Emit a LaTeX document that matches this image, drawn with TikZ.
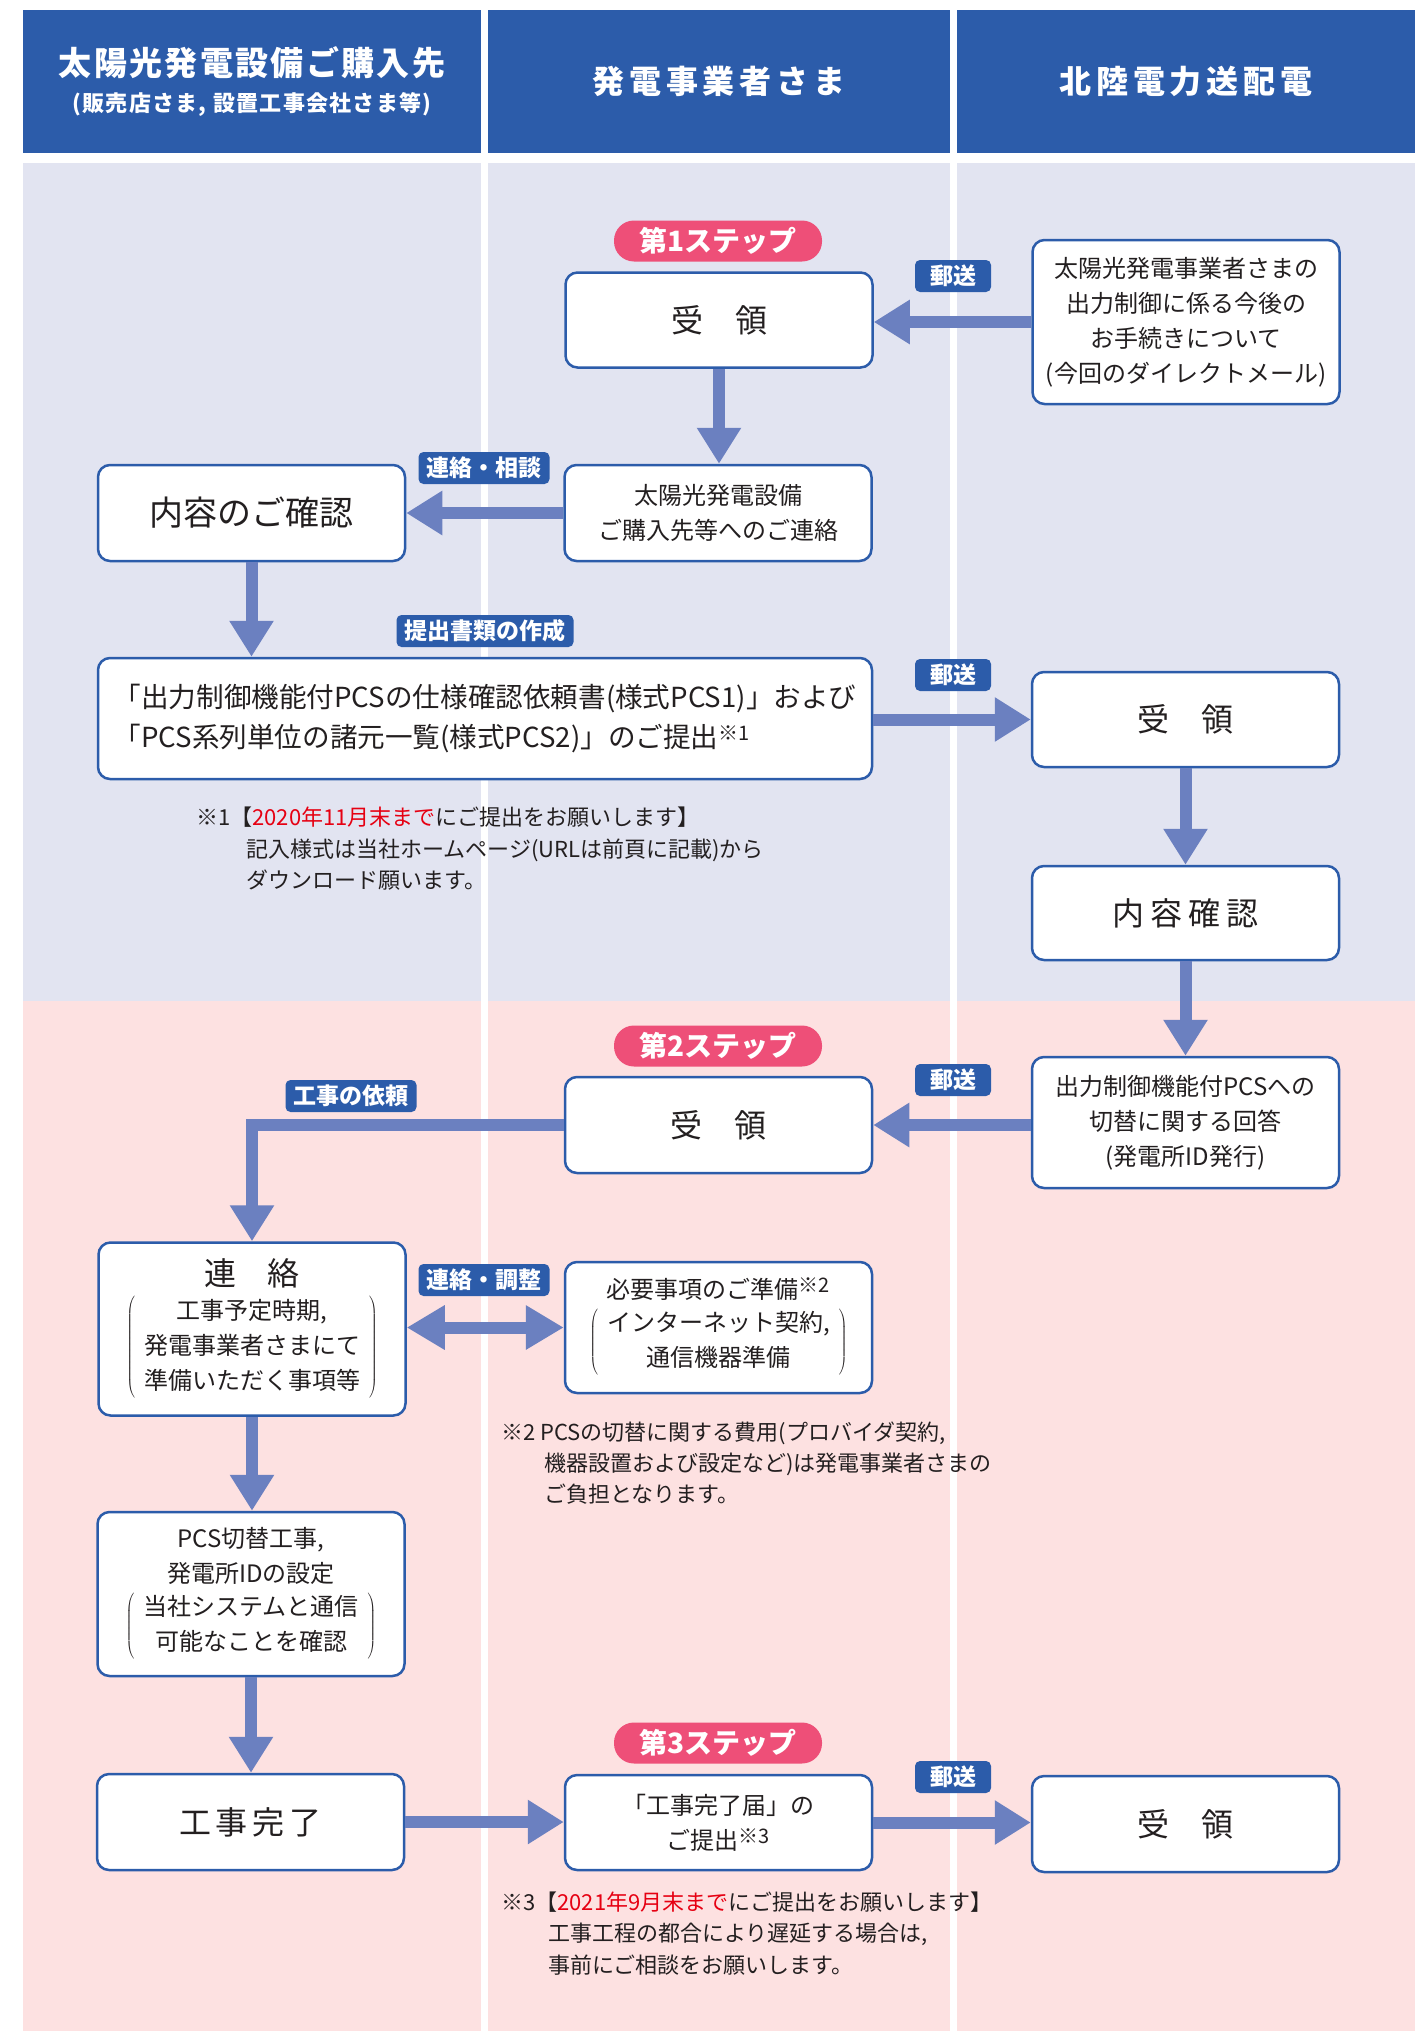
\documentclass[tikz,border=0pt]{standalone}
\usepackage{fontspec}
\newfontfamily\jpfont{Noto Sans CJK JP}
\usetikzlibrary{arrows.meta}
\definecolor{laneblue}{RGB}{44,92,170}
\definecolor{planbg}{RGB}{226,228,241}
\definecolor{workbg}{RGB}{253,225,225}
\definecolor{flowblue}{RGB}{107,128,192}
\definecolor{steppink}{RGB}{238,79,120}
\definecolor{duered}{RGB}{230,0,18}
\definecolor{inktext}{RGB}{35,31,32}
\newcommand{\bigjp}{\fontsize{32}{36}\selectfont}
\newcommand{\refmark}[1]{\raisebox{0.25em}{\fontsize{20}{20}\selectfont #1}}
\newcommand{\inparen}[1]{$\left(\renewcommand{\arraystretch}{1.0}%
  \begin{tabular}{@{\hspace{9pt}}c@{\hspace{9pt}}}#1\end{tabular}\right)$}
\tikzset{
  flowbox/.style={draw=laneblue, line width=2.5pt, fill=white, rounded corners=12pt,
    minimum width=307pt, minimum height=95pt, inner sep=0pt, align=center,
    text=inktext, font=\jpfont\fontsize{24}{35}\selectfont},
  tagbox/.style={fill=laneblue, rounded corners=5pt, text=white, inner xsep=8pt,
    inner ysep=0pt, minimum height=32pt, font=\jpfont\bfseries\fontsize{23}{23}\selectfont},
  steppill/.style={fill=steppink, rounded corners=20pt, minimum width=208pt,
    minimum height=41pt, inner sep=0pt, text=white, font=\jpfont\bfseries\fontsize{28}{28}\selectfont},
  lanehead/.style={fill=laneblue, minimum height=143pt, inner sep=0pt, align=center,
    text=white, font=\jpfont\bfseries},
  flow/.style={draw=flowblue, line width=12pt, -{Triangle[width=42pt,length=36pt]}},
  flowboth/.style={draw=flowblue, line width=12pt,
    {Triangle[width=42pt,length=38pt]}-{Triangle[width=42pt,length=38pt]}},
  noteline/.style={anchor=base west, inner sep=0pt, text=inktext,
    font=\jpfont\fontsize{22}{22}\selectfont}
}

\begin{document}
\begin{tikzpicture}[x=1pt, y=-1pt]
  \useasboundingbox (0,0) rectangle (1424,2031);
  \fill[white] (0,0) rectangle (1424,2031);

  % lanes
  \fill[planbg] (23,163) rectangle (481,1001);
  \fill[planbg] (488,163) rectangle (950,1001);
  \fill[planbg] (957,163) rectangle (1415,1001);
  \fill[workbg] (23,1001) rectangle (481,2031);
  \fill[workbg] (488,1001) rectangle (950,2031);
  \fill[workbg] (957,1001) rectangle (1415,2031);

  % headers
  \node[lanehead, minimum width=458pt] (headSeller) at (252,81.5)
    {{\fontsize{33}{40}\selectfont\addfontfeature{LetterSpace=7}太陽光発電設備ご購入先}\\[12pt]
     {\fontsize{22}{26}\selectfont\addfontfeature{LetterSpace=6}(販売店さま, 設置工事会社さま等)}};
  \node[lanehead, minimum width=462pt] (headOwner) at (719,81.5)
    {\fontsize{32}{36}\selectfont\addfontfeature{LetterSpace=15}発電事業者さま};
  \node[lanehead, minimum width=458pt] (headGrid) at (1186,81.5)
    {\fontsize{32}{36}\selectfont\addfontfeature{LetterSpace=15}北陸電力送配電};

  % step 1
  \node[steppill] (step1) at (718,241) {第1ステップ};
  \node[flowbox] (recvMail) at (719,320) {\bigjp 受\hspace{1em}領};
  \node[flowbox, minimum height=164pt] (dmLetter) at (1186,322)
    {太陽光発電事業者さまの\\出力制御に係る今後の\\お手続きについて\\(今回のダイレクトメール)};
  \node[flowbox, minimum height=96pt] (askSeller) at (718,513)
    {太陽光発電設備\\ご購入先等へのご連絡};
  \node[flowbox, minimum height=96pt] (checkSeller) at (251.5,513)
    {\fontsize{34}{36}\selectfont 内容のご確認};
  \node[flowbox, minimum width=774pt, minimum height=121pt, align=left,
    font=\jpfont\fontsize{27.6}{40}\selectfont] (submitDocs) at (485,718.5)
    {「出力制御機能付PCSの仕様確認依頼書(様式PCS1)」および\\
     「PCS系列単位の諸元一覧(様式PCS2)」のご提出\refmark{※1}};
  \node[flowbox] (recvForms) at (1185.5,719.5) {\bigjp 受\hspace{1em}領};
  \node[flowbox, minimum height=94pt] (checkForms) at (1185.5,913)
    {\bigjp 内\hspace{6pt}容\hspace{6pt}確\hspace{6pt}認};

  % step 2
  \node[steppill] (step2) at (718,1046) {第2ステップ};
  \node[flowbox, minimum height=131pt] (reply) at (1185.5,1122.5)
    {出力制御機能付PCSへの\\切替に関する回答\\(発電所ID発行)};
  \node[flowbox, minimum height=96pt] (recvReply) at (718.5,1125) {\bigjp 受\hspace{1em}領};
  \node[flowbox, minimum height=173pt] (contactSeller) at (252,1329)
    {{\bigjp 連\hspace{1em}絡}\\[6pt]
     \inparen{工事予定時期,\\発電事業者さまにて\\準備いただく事項等}};
  \node[flowbox, minimum height=131pt] (prepItems) at (718.5,1327.5)
    {必要事項のご準備\refmark{※2}\\[5pt]
     \inparen{インターネット契約,\\通信機器準備}};
  \node[flowbox, minimum height=164pt] (pcsWork) at (251,1594)
    {PCS切替工事,\\発電所IDの設定\\[5pt]
     \inparen{当社システムと通信\\可能なことを確認}};
  \node[flowbox, minimum height=96pt] (workDone) at (250.5,1822)
    {\bigjp 工\hspace{5pt}事\hspace{5pt}完\hspace{5pt}了};

  % step 3
  \node[steppill] (step3) at (718,1743) {第3ステップ};
  \node[flowbox] (doneReport) at (718.5,1822.5) {「工事完了届」の\\ご提出\refmark{※3}};
  \node[flowbox, minimum height=96pt] (recvReport) at (1185.5,1824) {\bigjp 受\hspace{1em}領};

  % connectors
  \draw[flow] (dmLetter.west) -- (dmLetter.west -| recvMail.east);
  \draw[flow] (recvMail.south) -- (recvMail.south |- askSeller.north);
  \draw[flow] (askSeller.west) -- (checkSeller.east);
  \draw[flow] (checkSeller.south) -- (checkSeller.south |- submitDocs.north);
  \draw[flow] (submitDocs.east |- recvForms.west) -- (recvForms.west);
  \draw[flow] (recvForms.south) -- (checkForms.north);
  \draw[flow] (checkForms.south) -- (checkForms.south |- reply.north);
  \draw[flow] (reply.west |- recvReply.east) -- (recvReply.east);
  \draw[flow] (recvReply.west) -| (contactSeller.north);
  \draw[flowboth] (contactSeller.east |- prepItems.west) -- (prepItems.west);
  \draw[flow] (contactSeller.south) -- (contactSeller.south |- pcsWork.north);
  \draw[flow] (pcsWork.south) -- (pcsWork.south |- workDone.north);
  \draw[flow] (workDone.east) -- (workDone.east -| doneReport.west);
  \draw[flow] (doneReport.east) -- (doneReport.east -| recvReport.west);

  % tags
  \node[tagbox, minimum width=76pt] (post1) at (953,276) {郵送};
  \node[tagbox] (talkTag) at (484,468) {連絡・相談};
  \node[tagbox] (docTag) at (485,631) {提出書類の作成};
  \node[tagbox, minimum width=76pt] (post2) at (953,675) {郵送};
  \node[tagbox, minimum width=76pt] (post3) at (953,1080) {郵送};
  \node[tagbox] (orderTag) at (351,1096) {工事の依頼};
  \node[tagbox] (adjustTag) at (484,1280) {連絡・調整};
  \node[tagbox, minimum width=76pt] (post4) at (953,1777) {郵送};

  % notes
  \node[noteline] (note1a) at (196,825) {※1【\textcolor{duered}{2020年11月末まで}にご提出をお願いします】};
  \node[noteline] (note1b) at (246,857) {記入様式は当社ホームページ(URLは前頁に記載)から};
  \node[noteline] (note1c) at (246,888) {ダウンロード願います。};
  \node[noteline] (note2a) at (501,1440) {※2 PCSの切替に関する費用(プロバイダ契約,};
  \node[noteline] (note2b) at (544,1471) {機器設置および設定など)は発電事業者さまの};
  \node[noteline] (note2c) at (544,1502) {ご負担となります。};
  \node[noteline] (note3a) at (501,1910) {※3【\textcolor{duered}{2021年9月末まで}にご提出をお願いします】};
  \node[noteline] (note3b) at (548,1941) {工事工程の都合により遅延する場合は,};
  \node[noteline] (note3c) at (548,1973) {事前にご相談をお願いします。};
\end{tikzpicture}
\end{document}
